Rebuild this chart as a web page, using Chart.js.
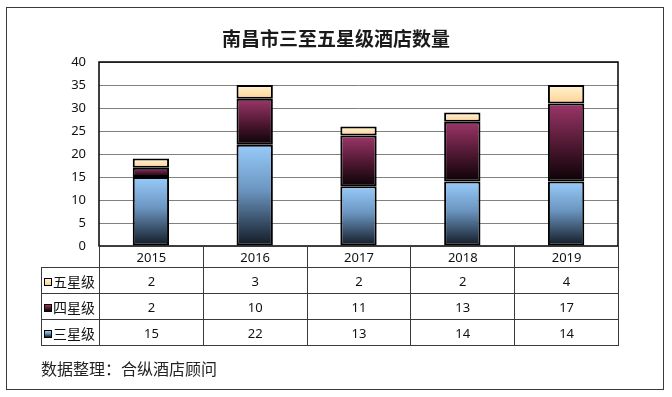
<!DOCTYPE html>
<html>
<head>
<meta charset="utf-8">
<script src="https://cdn.jsdelivr.net/npm/chart.js@4.4.1/dist/chart.umd.min.js"></script>
<style>
  html, body { margin: 0; padding: 0; background: #fff; }
  #wrap { position: relative; width: 672px; height: 397px; overflow: hidden;
    font-family: "Noto Sans", "Noto Sans CJK SC", sans-serif; color: #111; }
  #frame { position: absolute; left: 6px; top: 7px; width: 658px; height: 383px;
    box-sizing: border-box; border: 1px solid #3a3a3a; }
  #chart { position: absolute; left: 0; top: 0; }
  #title { position: absolute; left: 0; top: 25px; width: 672px; text-align: center;
    font: bold 19px/26px "Noto Sans CJK SC", sans-serif; color: #1a1a1a; }
  #table { position: absolute; border-collapse: collapse; table-layout: fixed; }
  #table td { border: 1px solid #3a3a3a; text-align: center; padding: 0; font-size: 13px; color: #111; }
  #table td.blank { border: none; }
  #table td.head { text-align: left; padding-left: 2px; font-family: "Noto Sans CJK SC", sans-serif; font-size: 14px; white-space: nowrap; }
  .sw { display: inline-block; width: 6px; height: 6px; border: 1px solid #000; margin-right: 1px; vertical-align: 1px; }
  #source { position: absolute; left: 41px; top: 356px; font: 16px/24px "Noto Sans CJK SC", sans-serif; color: #222; }
</style>
</head>
<body>
<div id="wrap">
  <canvas id="chart" width="672" height="397"></canvas>
  <div id="title">南昌市三至五星级酒店数量</div>
  <table id="table"></table>
  <div id="source">数据整理：合纵酒店顾问</div>
  <div id="frame"></div>
</div>
<script>
const years = ["2015", "2016", "2017", "2018", "2019"];
const seriesNames = ["三星级", "四星级", "五星级"];
const threeStar = [15, 22, 13, 14, 14];
const fourStar = [2, 10, 11, 13, 17];
const fiveStar = [2, 3, 2, 2, 4];
const yMin = 0, yMax = 40, yStep = 5;

// gradient stops, top of segment -> bottom of segment
const fills = [
  [[0, "#98cbfa"], [0.45, "#6b95c0"], [1, "#111923"]],
  [[0, "#9c3669"], [0.55, "#4c1730"], [1, "#0b0205"]],
  [[0, "#fff4d4"], [1, "#ffd294"]],
];

function segmentFill(ctx) {
  const stops = fills[ctx.datasetIndex];
  const chart = ctx.chart;
  const y = chart.scales.y;
  if (!y || ctx.type !== "data") return stops[0][1];
  const ds = chart.data.datasets;
  let below = 0;
  for (let i = 0; i < ctx.datasetIndex; i++) below += ds[i].data[ctx.dataIndex];
  const v = ds[ctx.datasetIndex].data[ctx.dataIndex];
  const top = y.getPixelForValue(below + v);
  const bottom = y.getPixelForValue(below);
  if (!isFinite(top) || !isFinite(bottom) || top === bottom) return stops[0][1];
  const g = chart.ctx.createLinearGradient(0, top, 0, bottom);
  stops.forEach(([o, c]) => g.addColorStop(o, c));
  return g;
}

const plotFrame = {
  id: "plotFrame",
  afterDatasetsDraw(chart) {
    const { ctx, chartArea: a } = chart;
    ctx.save();
    ctx.strokeStyle = "#000";
    ctx.lineWidth = 1.5;
    ctx.strokeRect(a.left, a.top, a.right - a.left, a.bottom - a.top);
    ctx.restore();
  },
};

const values = [threeStar, fourStar, fiveStar];

const chart = new Chart(document.getElementById("chart"), {
  type: "bar",
  data: {
    labels: years,
    datasets: values.map((data, i) => ({
      label: seriesNames[i],
      data,
      backgroundColor: segmentFill,
      borderColor: "#000",
      borderWidth: 2,
      borderSkipped: false,
      barPercentage: 0.35,
      categoryPercentage: 1,
    })),
  },
  options: {
    responsive: false,
    animation: false,
    layout: { padding: { top: 62, right: 54, bottom: 151, left: 0 } },
    plugins: { legend: { display: false }, tooltip: { enabled: false }, title: { display: false } },
    scales: {
      x: { stacked: true, display: false },
      y: {
        stacked: true,
        min: yMin,
        max: yMax,
        afterFit: (s) => { s.width = 99; },
        ticks: { stepSize: yStep, padding: 13, color: "#111", font: { family: "'Noto Sans'", size: 13 } },
        grid: { color: "#808080", lineWidth: 1, drawTicks: false },
        border: { display: false },
      },
    },
  },
  plugins: [plotFrame],
});

// data table under the plot, columns aligned to the chart area
function buildTable() {
  const a = chart.chartArea;
  const headW = a.left - 41;
  const colW = (a.right - a.left) / years.length;
  const table = document.getElementById("table");
  table.style.left = "41px";
  table.style.top = Math.round(a.bottom) + "px";
  table.style.width = (a.right - 41) + "px";
  let html = "<colgroup><col style='width:" + headW + "px'>";
  years.forEach(() => { html += "<col style='width:" + colW + "px'>"; });
  html += "</colgroup>";
  html += "<tr style='height:21px'><td class='blank'></td>" + years.map((y) => "<td>" + y + "</td>").join("") + "</tr>";
  for (let i = values.length - 1; i >= 0; i--) {
    const st = fills[i];
    const grad = "linear-gradient(" + st.map(([o, c]) => c + " " + (o * 100) + "%").join(",") + ")";
    html += "<tr style='height:26px'><td class='head'><span class='sw' style='background:" + grad + "'></span>" + seriesNames[i] + "</td>" +
      values[i].map((v) => "<td>" + v + "</td>").join("") + "</tr>";
  }
  table.innerHTML = html;
}
buildTable();
</script>
</body>
</html>
